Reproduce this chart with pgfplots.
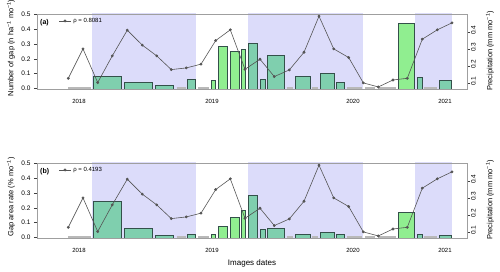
\documentclass[border=0pt]{standalone}
\usepackage{fontspec}
\setmainfont{Liberation Sans}
\usepackage{pgfplots}
\usepackage{pgfplotstable}
\pgfplotsset{compat=1.18}
\definecolor{lav}{HTML}{DCDCFA}
\definecolor{bteal}{HTML}{7FCFAE}
\definecolor{lgreen}{HTML}{90EE90}
\definecolor{bline}{HTML}{34504A}
\definecolor{pline}{HTML}{555555}

% monthly precipitation (x in plot units, value in mm/mo)
\pgfplotstableread{
x y
68.3 0.129
83 0.302
97.7 0.104
112.3 0.261
127.3 0.412
142.3 0.324
156.7 0.261
171.3 0.180
186.3 0.190
201 0.212
215.7 0.351
230.3 0.414
245 0.182
260 0.241
274.3 0.139
289.3 0.178
304 0.282
319 0.494
333.7 0.302
348.7 0.251
363.3 0.102
378.3 0.078
393 0.119
407.3 0.129
422.3 0.359
437.3 0.414
452 0.455
}\precip

\newcommand{\gbar}[4]{\addplot[fill=#4, draw=bline, line width=0.6bp] coordinates {(#1,0) (#1,#3) (#2,#3) (#2,0)};}
\newcommand{\zbar}[2]{\addplot[draw=gray!55, line width=1.6bp] coordinates {(#1,0.003) (#2,0.003)};}
\newcommand{\bandfill}[2]{\addplot[fill=lav, draw=none] coordinates {(#1,-0.01) (#1,0.51) (#2,0.51) (#2,-0.01)};}
\newcommand{\bands}{\bandfill{92}{196}\bandfill{248}{363}\bandfill{415}{452}}
\newcommand{\zbars}{\zbar{68}{91}\zbar{176.7}{185.7}\zbar{198}{209}\zbar{286.7}{293.3}\zbar{312.3}{318.3}\zbar{346.7}{362.3}\zbar{365}{375}\zbar{378}{396}\zbar{424}{437.3}}

\pgfplotsset{
  base/.style={scale only axis, width=430bp, height=75bp, xmin=37, xmax=467,
    /pgf/number format/assume math mode=true,
    tick label style={font=\fontsize{6.5bp}{7.5bp}\selectfont},
    label style={font=\fontsize{7.5bp}{9bp}\selectfont},
    tick align=outside, major tick length=3bp,
    axis line style={-, draw=gray!75, line width=0.8bp},
  },
  leftax/.style={base, ymin=-0.002, ymax=0.5, ytick={0,0.1,0.2,0.3,0.4,0.5},
    yticklabel style={/pgf/number format/.cd, fixed, fixed zerofill, precision=1},
    ytick pos=left, ytick style={draw=black!75, line width=0.6bp},
    xtick={79,212,353,445}, xticklabels={2018,2019,2020,2021},
    xtick style={draw=none}, xtick pos=left,
    xticklabel style={font=\fontsize{6bp}{7bp}\selectfont, yshift=-4bp},
    axis on top,
    ylabel style={at={(axis description cs:-0.0605,0.547)}, anchor=center},
  },
  rightax/.style={base, axis y line*=right, axis x line=none, ymin=0.066, ymax=0.507,
    ytick={0.1,0.2,0.3,0.4},
    yticklabel style={rotate=90, anchor=north, inner sep=1bp, xshift=2bp, /pgf/number format/.cd, fixed, precision=1},
    ytick style={draw=black!75, line width=0.6bp},
    ylabel style={at={(axis description cs:1.0535,0.507)}, anchor=center},
    ylabel={Precipitation (mm mo\textsuperscript{−1})},
    legend style={at={(axis description cs:0.05,0.907)}, anchor=west, draw=none, fill=none,
      font=\fontsize{6bp}{7bp}\selectfont, inner sep=0pt},
    legend image code/.code={\draw[mark repeat=2,mark phase=2,##1] plot coordinates {(0bp,0bp) (6bp,0bp) (12bp,0bp)};},
  },
  pstyle/.style={draw=pline, line width=0.6bp, mark=*, mark size=1.1bp, mark options={fill=pline, draw=pline}},
}

\begin{document}
\begin{tikzpicture}
\useasboundingbox (0,0) rectangle (500bp,272bp);
% ---------------- panel (a)
\begin{axis}[leftax, at={(37bp,183bp)}, anchor=south west,
  ylabel={Number of gap (n ha\textsuperscript{−1} mo\textsuperscript{−1})}]
\bands
\zbars
\gbar{93.3}{121.3}{0.083}{bteal}
\gbar{124.3}{152.3}{0.043}{bteal}
\gbar{155.7}{173.3}{0.020}{bteal}
\gbar{187.7}{195.3}{0.063}{bteal}
\gbar{211.3}{215.7}{0.053}{lgreen}
\gbar{218.3}{227.7}{0.283}{lgreen}
\gbar{230}{239.3}{0.252}{lgreen}
\gbar{241}{245.7}{0.262}{lgreen}
\gbar{248}{257.7}{0.303}{bteal}
\gbar{260.3}{265.5}{0.063}{bteal}
\gbar{267.3}{284.3}{0.223}{bteal}
\gbar{295.7}{310.7}{0.083}{bteal}
\gbar{320}{334.3}{0.103}{bteal}
\gbar{336}{344.3}{0.045}{bteal}
\gbar{398.7}{414.7}{0.440}{lgreen}
\gbar{417}{422.3}{0.073}{bteal}
\gbar{439.3}{451.7}{0.056}{bteal}
\node[anchor=west, font=\bfseries\fontsize{7bp}{8bp}\selectfont, inner sep=0pt] at (axis description cs:0.007,0.88) {(a)};
\end{axis}
\begin{axis}[rightax, at={(37bp,183bp)}, anchor=south west]
\addplot[pstyle] table[x=x, y=y] {\precip};
\addlegendentry{ρ = 0.8081}
\end{axis}
% ---------------- panel (b)
\begin{axis}[leftax, at={(37bp,34bp)}, anchor=south west,
  ylabel={Gap area rate (\% mo\textsuperscript{−1})},
  xlabel={Images dates},
  xlabel style={at={(axis description cs:0.5,-0.337)}, anchor=center, font=\fontsize{8bp}{9bp}\selectfont}]
\bands
\zbars
\gbar{93.3}{121.3}{0.244}{bteal}
\gbar{124.3}{152.3}{0.065}{bteal}
\gbar{155.7}{173.3}{0.013}{bteal}
\gbar{187.7}{195.3}{0.022}{bteal}
\gbar{211.3}{215.7}{0.023}{lgreen}
\gbar{218.3}{227.7}{0.075}{lgreen}
\gbar{230}{239.3}{0.134}{lgreen}
\gbar{241}{245.7}{0.186}{lgreen}
\gbar{248}{257.7}{0.282}{bteal}
\gbar{260.3}{265.5}{0.055}{bteal}
\gbar{267.3}{284.3}{0.063}{bteal}
\gbar{295.7}{310.7}{0.023}{bteal}
\gbar{320}{334.3}{0.034}{bteal}
\gbar{336}{344.3}{0.023}{bteal}
\gbar{398.7}{414.7}{0.172}{lgreen}
\gbar{417}{422.3}{0.025}{bteal}
\gbar{439.3}{451.7}{0.016}{bteal}
\node[anchor=west, font=\bfseries\fontsize{7bp}{8bp}\selectfont, inner sep=0pt] at (axis description cs:0.007,0.88) {(b)};
\end{axis}
\begin{axis}[rightax, at={(37bp,34bp)}, anchor=south west]
\addplot[pstyle] table[x=x, y=y] {\precip};
\addlegendentry{ρ = 0.4193}
\end{axis}
\end{tikzpicture}
\end{document}
